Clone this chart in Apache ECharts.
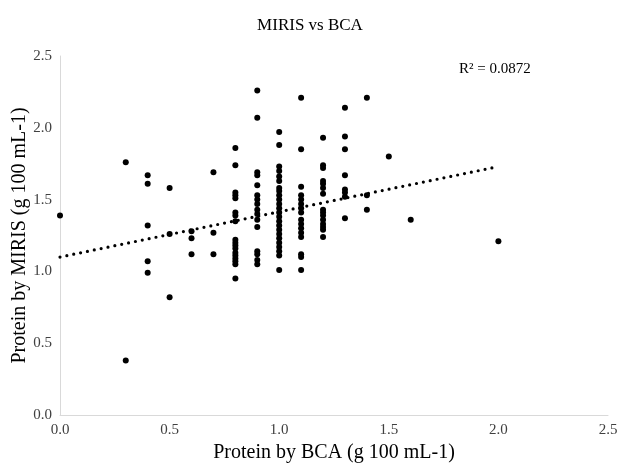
<!DOCTYPE html>
<html>
<head>
<meta charset="utf-8">
<script src="https://cdn.jsdelivr.net/npm/echarts@6/dist/echarts.min.js"></script>
<style>
  html, body { margin: 0; padding: 0; background: #fff; }
  #chart { width: 620px; height: 463px; }
</style>
</head>
<body>
<div id="chart"></div>
<script>
// BCA 值（x）与对应的 MIRIS 值（y）
const bcaLevels = [0.0, 0.3, 0.4, 0.5, 0.6, 0.7, 0.8, 0.9, 1.0, 1.1, 1.2, 1.3, 1.4, 1.5, 1.6, 2.0];
const mirisByLevel = [
    [1.39],
    [1.76, 0.38],
    [1.67, 1.61, 1.32, 1.07, 0.99],
    [1.58, 1.26, 0.82],
    [1.28, 1.23, 1.12],
    [1.69, 1.27, 1.12],
    [1.86, 1.74, 1.55, 1.53, 1.51, 1.41, 1.39, 1.35, 1.22, 1.20, 1.18, 1.16, 1.13, 1.11, 1.09, 1.07, 1.05, 0.95],
    [2.26, 2.07, 1.69, 1.67, 1.60, 1.53, 1.50, 1.47, 1.43, 1.40, 1.36, 1.31, 1.14, 1.12, 1.08, 1.05],
    [1.97, 1.88, 1.73, 1.70, 1.66, 1.63, 1.58, 1.56, 1.53, 1.50, 1.47, 1.44, 1.41, 1.38, 1.35, 1.32, 1.29, 1.26, 1.23, 1.20, 1.17, 1.14, 1.11, 1.01],
    [2.21, 1.85, 1.59, 1.53, 1.50, 1.47, 1.44, 1.41, 1.36, 1.33, 1.30, 1.27, 1.24, 1.12, 1.10, 1.01],
    [1.93, 1.74, 1.72, 1.63, 1.61, 1.58, 1.54, 1.43, 1.41, 1.39, 1.36, 1.33, 1.31, 1.29, 1.24],
    [2.14, 1.94, 1.85, 1.67, 1.57, 1.55, 1.52, 1.37],
    [2.21, 1.53, 1.43],
    [1.80],
    [1.36],
    [1.21]
];
// 趋势线端点
const trendX = [0.0, 2.0];
const trendY = [1.10, 1.73];
const rSquaredText = 'R² = 0.0872';

function initScatterChart() {
    const chart = echarts.init(document.getElementById('chart'));

    const points = [];
    bcaLevels.forEach(function (x, i) {
        mirisByLevel[i].forEach(function (y) {
            points.push([x, y]);
        });
    });
    const trendData = trendX.map(function (x, i) { return [x, trendY[i]]; });

    const serif = 'Liberation Serif';

    const option = {
        animation: false,
        title: {
            text: 'MIRIS vs BCA',
            left: 'center',
            top: 12,
            textStyle: { fontFamily: serif, fontSize: 17, fontWeight: 'normal', color: '#000' }
        },
        grid: { left: 60, right: 12, top: 56, bottom: 48, outerBoundsMode: 'none', containLabel: false },
        xAxis: {
            type: 'value',
            min: 0, max: 2.5, interval: 0.5,
            name: 'Protein by BCA (g 100 mL-1)',
            nameLocation: 'middle',
            nameGap: 28,
            nameTextStyle: { fontFamily: serif, fontSize: 20, color: '#000' },
            axisLine: { lineStyle: { color: '#d9d9d9', width: 1 } },
            axisTick: { show: false },
            splitLine: { show: false },
            axisLabel: {
                fontFamily: serif, fontSize: 15, color: '#404040', margin: 8,
                formatter: function (v) { return v.toFixed(1); }
            }
        },
        yAxis: {
            type: 'value',
            min: 0, max: 2.5, interval: 0.5,
            name: 'Protein by MIRIS (g 100 mL-1)',
            nameLocation: 'middle',
            nameGap: 30,
            nameMoveOverlap: false,
            nameTextStyle: { fontFamily: serif, fontSize: 20, color: '#000' },
            axisLine: { show: true, lineStyle: { color: '#d9d9d9', width: 1 } },
            axisTick: { show: false },
            splitLine: { show: false },
            axisLabel: {
                fontFamily: serif, fontSize: 15, color: '#404040', margin: 8,
                formatter: function (v) { return v.toFixed(1); }
            }
        },
        graphic: [{
            type: 'text',
            left: 459,
            top: 62,
            style: { text: rSquaredText, font: '15px "Liberation Serif"', fill: '#000' }
        }],
        series: [{
            type: 'scatter',
            data: points,
            symbolSize: 6,
            itemStyle: { color: '#000', opacity: 1 }
        }, {
            type: 'line',
            data: trendData,
            symbol: 'none',
            lineStyle: { color: '#000', width: 3.2, type: [0, 7], cap: 'round' }
        }]
    };

    chart.setOption(option);
}

window.onload = function () {
    initScatterChart();
};
</script>
</body>
</html>
